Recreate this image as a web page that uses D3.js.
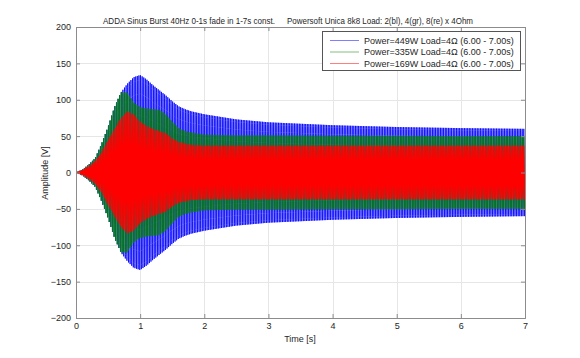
<!DOCTYPE html>
<html><head><meta charset="utf-8">
<script src="https://cdn.jsdelivr.net/npm/d3@7/dist/d3.min.js"></script>
<style>
body{margin:0;background:#fff}
svg{display:block}
text{font-family:"Liberation Sans",Arial,Helvetica,sans-serif;fill:#262626}
</style>
</head><body>
<svg id="chart" width="580" height="358"></svg>
<script>
// ---- data ----
const envTimes  = [0, 0.1, 0.2, 0.3, 0.4, 0.5, 0.6, 0.7, 0.8, 0.9, 1.0, 1.1, 1.2, 1.3, 1.4, 1.5, 1.6, 1.7, 1.8, 2.0, 2.5, 3, 4, 5, 6, 7];
const blueEnv   = [0, 4, 11, 20, 40, 63, 90, 110, 122, 131, 134, 128, 120, 113, 106, 98, 91, 87, 84, 80, 73, 69, 65, 62.5, 61, 60];
const greenEnv  = [0, 4, 11, 20, 40, 63, 90, 110, 110, 96, 90, 88, 87, 86, 80, 70, 61, 57, 55, 52, 51, 51, 50.5, 50.5, 50, 50];
const redEnv    = [0, 3, 8, 16, 28, 45, 60, 75, 84, 80, 70, 64, 60, 57, 54, 47, 42, 40, 38, 37, 37, 37, 37, 37, 37, 37];
const carrierHz = 40;
const seriesNames = ["Power=449W Load=4\u03A9 (6.00 - 7.00s)", "Power=335W Load=4\u03A9 (6.00 - 7.00s)", "Power=169W Load=4\u03A9 (6.00 - 7.00s)"];
const seriesColors = ["#0000ff", "#008000", "#ff0000"];
const seriesPhase = [0, 0, 0];
const xTicks = [0, 1, 2, 3, 4, 5, 6, 7];
const yTicks = [-200, -150, -100, -50, 0, 50, 100, 150, 200];
const titleLeft = "ADDA Sinus Burst 40Hz 0-1s fade in 1-7s const.";
const titleRight = "Powersoft Unica 8k8 Load: 2(bl), 4(gr), 8(re) x 4Ohm";
const xLabel = "Time [s]";
const yLabel = "Amplitude [V]";

// ---- layout ----
const L = 76, R = 525, T = 27, B = 318;
const svg = d3.select("#chart");
const x = d3.scaleLinear().domain([0, 7]).range([L, R]);
const y = d3.scaleLinear().domain([-200, 200]).range([B, T]);

svg.append("defs").append("clipPath").attr("id", "clip")
  .append("rect").attr("x", L).attr("y", T).attr("width", R - L).attr("height", B - T);

// grid
const grid = svg.append("g").attr("stroke", "#e6e6e6").attr("stroke-width", 1).attr("shape-rendering", "crispEdges");
grid.selectAll(".gx").data(xTicks.slice(1, -1)).join("line")
  .attr("x1", d => Math.round(x(d)) + 0.5).attr("x2", d => Math.round(x(d)) + 0.5).attr("y1", T).attr("y2", B);
grid.selectAll(".gy").data(yTicks.slice(1, -1)).join("line")
  .attr("y1", d => Math.round(y(d)) + 0.5).attr("y2", d => Math.round(y(d)) + 0.5).attr("x1", L).attr("x2", R);

// series
const envs = [blueEnv, greenEnv, redEnv];
const widths = [0.8, 0.8, 1.05];
const samplesPerCycle = 20;
const dt = 1 / (carrierHz * samplesPerCycle);
const N = Math.round(7 / dt);
const plot = svg.append("g").attr("clip-path", "url(#clip)");
envs.forEach((env, i) => {
  const envScale = d3.scaleLinear().domain(envTimes).range(env);
  const pts = d3.range(N + 1).map(k => {
    const t = k * dt;
    return [t, envScale(t) * Math.sin(2 * Math.PI * carrierHz * t + seriesPhase[i])];
  });
  const line = d3.line().x(d => x(d[0])).y(d => y(d[1]));
  plot.append("path").attr("d", line(pts)).attr("fill", "none")
    .attr("stroke", seriesColors[i]).attr("stroke-width", widths[i]).attr("stroke-opacity", 1);
});

// axes
const axCol = "#8c8c8c";
const axBottom = d3.axisBottom(x).tickValues(xTicks).tickSize(-4).tickPadding(5).tickFormat(d3.format("d"));
const axTop = d3.axisTop(x).tickValues(xTicks).tickSize(-4).tickFormat("");
const axLeft = d3.axisLeft(y).tickValues(yTicks).tickSize(-4).tickPadding(5).tickFormat(d3.format("d"));
const axRight = d3.axisRight(y).tickValues(yTicks).tickSize(-4).tickFormat("");
function style(g) {
  g.selectAll("path,line").attr("stroke", axCol);
  g.selectAll("text").attr("fill", "#262626").style("font-size", "9px");
}
svg.append("g").attr("transform", `translate(0,${B})`).call(axBottom).call(style);
svg.append("g").attr("transform", `translate(0,${T})`).call(axTop).call(style);
svg.append("g").attr("transform", `translate(${L},0)`).call(axLeft).call(style);
svg.append("g").attr("transform", `translate(${R},0)`).call(axRight).call(style);
svg.selectAll(".domain").attr("stroke", axCol);

// labels
svg.append("text").attr("x", 300).attr("y", 342).attr("text-anchor", "middle").style("font-size", "9px").text(xLabel);
svg.append("text").attr("transform", "translate(48,173) rotate(-90)").attr("text-anchor", "middle").style("font-size", "9px").text(yLabel);
svg.append("text").attr("x", 103).attr("y", 24).style("font-size", "9px")
  .attr("textLength", 172).attr("lengthAdjust", "spacingAndGlyphs").text(titleLeft);
svg.append("text").attr("x", 287).attr("y", 24).style("font-size", "9px")
  .attr("textLength", 186).attr("lengthAdjust", "spacingAndGlyphs").text(titleRight);

// legend
const lg = svg.append("g");
lg.append("rect").attr("x", 322.5).attr("y", 31.5).attr("width", 198).attr("height", 39)
  .attr("fill", "#fff").attr("stroke", "#555").attr("stroke-width", 1);
seriesNames.forEach((name, i) => {
  const yy = 40.5 + i * 11.5;
  lg.append("line").attr("x1", 330).attr("x2", 359).attr("y1", yy).attr("y2", yy)
    .attr("stroke", seriesColors[i]).attr("stroke-width", 1).attr("stroke-opacity", 0.5);
  lg.append("text").attr("x", 364).attr("y", yy + 3).style("font-size", "9px").text(name);
});
</script>
</body></html>
